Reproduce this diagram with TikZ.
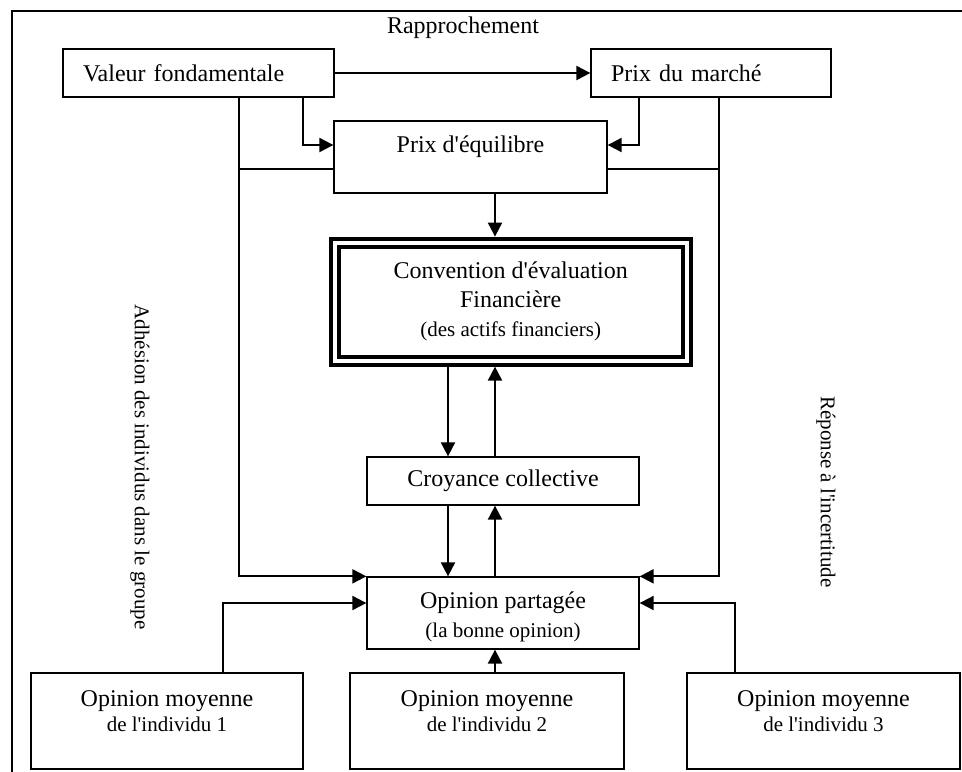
\documentclass[tikz,border=0pt]{standalone}
\usepackage{fontspec}
\setmainfont{Liberation Serif}[Ligatures=TeXOff]
\usetikzlibrary{arrows.meta}
\newcommand\petit{\fontsize{10.5}{13}\selectfont}

\begin{document}
\begin{tikzpicture}[x=0.5pt,y=-0.5pt,>={Triangle[length=7pt,width=7pt]},
		font=\fontsize{12}{14.5}\selectfont,
		base box/.style={rectangle,draw,line width=0.65pt,inner sep=0pt,minimum height=24pt},
		left box/.style={base box,align=left,inner xsep=10pt},
		low box/.style={base box,minimum width=136pt,text height=23pt,text depth=25pt},
		side text/.style={rotate=-90,font=\petit},
		link/.style={line width=1pt}]
		\useasboundingbox (0,0) rectangle (962,771);
		\clip (0,0) rectangle (962,771);
		\draw[line width=0.65pt] (12,800) -- (12,11) -- (990,11);
		% les boites
		\node (rap) at (463,28) {Rapprochement};
		\node[left box,text width=115.5pt] (vf) at (198.5,73) {Valeur fondamentale};
		\node[left box,text width=100pt] (pm) at (711,73) {Prix du march\'e};
		\node[base box,minimum width=136.5pt,text height=15.5pt,text depth=20.5pt] (pe) at (470.5,157) {Prix d'\'equilibre};
		\node[base box,align=center,double,line width=2pt,double distance=2pt,outer sep=3pt,
			minimum width=176pt,minimum height=59pt] (conv) at (510.7,301.6)
			{Convention d'\'evaluation\\Financi\`ere\\{\petit (des actifs financiers)}};
		\node[base box,minimum width=136pt] (croy) at (503,481) {Croyance collective};
		\node[base box,minimum width=136pt,text height=23pt,text depth=13pt] (opp) at (503,613)
			{\begin{tabular}{@{}c@{}}Opinion partag\'ee\\\petit (la bonne opinion)\end{tabular}};
		\node[low box] (om1) at (167,721) {\begin{tabular}{@{}c@{}}Opinion moyenne\\[-2pt]\petit de l'individu 1\end{tabular}};
		\node[low box,minimum width=137pt] (om2) at (487,721) {\begin{tabular}{@{}c@{}}Opinion moyenne\\[-2pt]\petit de l'individu 2\end{tabular}};
		\node[low box,minimum width=136.5pt] (om3) at (823.5,721) {\begin{tabular}{@{}c@{}}Opinion moyenne\\[-2pt]\petit de l'individu 3\end{tabular}};
		\node[side text] (adh) at (140,467) {Adh\'esion des individus dans le groupe};
		\node[side text] (rep) at (826,492) {R\'eponse \`a l'incertitude};
		\coordinate (ga) at (303,145);
		\coordinate (dr) at (639,145);
		\coordinate (gl) at (239,169);
		\coordinate (dl) at (719,169);
		\coordinate (mh) at (495,0);
		\coordinate (mg) at (448,0);
		\coordinate (o1) at (223,603);
		\coordinate (o3) at (735,603);
		\draw[link,->] (vf) -- (pm);
		\draw[link,->] (vf.south -| ga) |- (pe.west |- ga);
		\draw[link,->] (pm.south -| dr) |- (pe.east |- dr);
		\draw[link,->] (vf.south -| gl) |- (opp.north west);
		\draw[link] (gl) -- (pe.west |- gl);
		\draw[link,->] (pm.south -| dl) |- (opp.north east);
		\draw[link] (dl) -- (pe.east |- dl);
		\draw[link,->] (pe.south -| mh) -- (conv.north -| mh);
		\draw[link,->] (conv.south -| mg) -- (croy.north -| mg);
		\draw[link,->] (croy.north -| mh) -- (conv.south -| mh);
		\draw[link,->] (croy.south -| mg) -- (opp.north -| mg);
		\draw[link,->] (opp.north -| mh) -- (croy.south -| mh);
		\draw[link,->] (om1.north -| o1) |- (opp.west |- o1);
		\draw[link,->] (om2.north -| mh) -- (opp.south -| mh);
		\draw[link,->] (om3.north -| o3) |- (opp.east |- o3);
\end{tikzpicture}
\end{document}
